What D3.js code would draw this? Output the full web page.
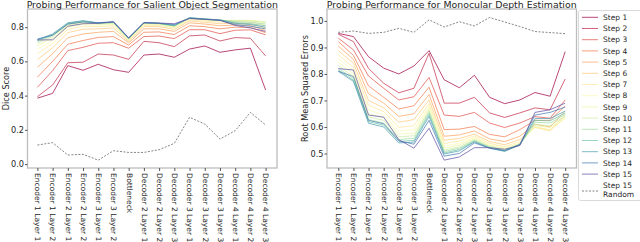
<!DOCTYPE html>
<html>
<head>
<meta charset="utf-8">
<script src="https://cdn.jsdelivr.net/npm/d3@7"></script>
<style>
  body { margin: 0; background: #fff; }
  text { font-family: "DejaVu Sans", sans-serif; fill: #262626; }
</style>
</head>
<body>
<div id="chart"></div>
<script>
var layers = ["Encoder 1 Layer 1", "Encoder 1 Layer 2", "Encoder 2 Layer 1", "Encoder 2 Layer 2",
  "Encoder 3 Layer 1", "Encoder 3 Layer 2", "Bottleneck", "Decoder 2 Layer 1", "Decoder 2 Layer 2",
  "Decoder 2 Layer 3", "Decoder 3 Layer 1", "Decoder 3 Layer 2", "Decoder 3 Layer 3",
  "Decoder 4 Layer 1", "Decoder 4 Layer 2", "Decoder 4 Layer 3"];

var stepNames = ["Step 1", "Step 2", "Step 3", "Step 4", "Step 5", "Step 6", "Step 7", "Step 8",
  "Step 9", "Step 10", "Step 11", "Step 12", "Step 13", "Step 14", "Step 15"];

// dice score per step (salient object segmentation)
var segSteps = [
  [0.385, 0.413, 0.575, 0.548, 0.583, 0.551, 0.536, 0.637, 0.643, 0.624, 0.672, 0.690, 0.653, 0.667, 0.677, 0.433],
  [0.394, 0.462, 0.592, 0.595, 0.643, 0.637, 0.612, 0.717, 0.709, 0.686, 0.749, 0.754, 0.719, 0.739, 0.735, 0.632],
  [0.448, 0.546, 0.663, 0.682, 0.706, 0.709, 0.677, 0.745, 0.748, 0.733, 0.785, 0.785, 0.762, 0.782, 0.784, 0.755],
  [0.508, 0.600, 0.700, 0.722, 0.740, 0.745, 0.695, 0.770, 0.772, 0.757, 0.808, 0.803, 0.790, 0.800, 0.798, 0.768],
  [0.565, 0.645, 0.738, 0.760, 0.770, 0.775, 0.708, 0.790, 0.790, 0.775, 0.825, 0.818, 0.808, 0.812, 0.810, 0.780],
  [0.610, 0.680, 0.768, 0.788, 0.790, 0.795, 0.716, 0.803, 0.803, 0.787, 0.836, 0.828, 0.820, 0.822, 0.820, 0.795],
  [0.645, 0.705, 0.787, 0.805, 0.803, 0.808, 0.722, 0.811, 0.810, 0.795, 0.843, 0.835, 0.830, 0.832, 0.830, 0.810],
  [0.672, 0.722, 0.800, 0.815, 0.812, 0.815, 0.726, 0.816, 0.815, 0.800, 0.848, 0.840, 0.836, 0.838, 0.838, 0.825],
  [0.692, 0.735, 0.808, 0.823, 0.817, 0.820, 0.729, 0.819, 0.818, 0.803, 0.851, 0.843, 0.838, 0.840, 0.840, 0.832],
  [0.705, 0.745, 0.814, 0.829, 0.820, 0.824, 0.731, 0.822, 0.820, 0.805, 0.853, 0.845, 0.840, 0.838, 0.836, 0.828],
  [0.715, 0.752, 0.818, 0.833, 0.822, 0.827, 0.733, 0.824, 0.821, 0.807, 0.854, 0.847, 0.841, 0.832, 0.828, 0.818],
  [0.722, 0.757, 0.822, 0.836, 0.824, 0.828, 0.734, 0.825, 0.822, 0.808, 0.855, 0.848, 0.842, 0.826, 0.820, 0.808],
  [0.727, 0.760, 0.825, 0.838, 0.825, 0.829, 0.735, 0.826, 0.822, 0.810, 0.855, 0.848, 0.842, 0.822, 0.815, 0.800],
  [0.730, 0.752, 0.818, 0.830, 0.826, 0.831, 0.737, 0.826, 0.823, 0.815, 0.852, 0.846, 0.840, 0.815, 0.805, 0.790],
  [0.725, 0.726, 0.805, 0.820, 0.822, 0.832, 0.738, 0.826, 0.824, 0.820, 0.850, 0.845, 0.840, 0.810, 0.795, 0.775]
];
var segRandom = [0.111, 0.125, 0.053, 0.057, 0.023, 0.078, 0.068, 0.068, 0.084, 0.121, 0.273, 0.234, 0.146, 0.195, 0.302, 0.228];

// rmse per step (monocular depth estimation)
var depthSteps = [
  [0.953, 0.941, 0.865, 0.822, 0.800, 0.830, 0.888, 0.778, 0.748, 0.795, 0.712, 0.688, 0.702, 0.730, 0.716, 0.884],
  [0.950, 0.922, 0.821, 0.765, 0.729, 0.746, 0.878, 0.690, 0.690, 0.712, 0.653, 0.636, 0.653, 0.672, 0.665, 0.781],
  [0.935, 0.891, 0.792, 0.746, 0.702, 0.714, 0.787, 0.645, 0.640, 0.655, 0.615, 0.598, 0.615, 0.639, 0.633, 0.702],
  [0.922, 0.870, 0.755, 0.712, 0.668, 0.680, 0.750, 0.590, 0.592, 0.602, 0.572, 0.563, 0.590, 0.625, 0.625, 0.680],
  [0.905, 0.855, 0.725, 0.690, 0.640, 0.650, 0.722, 0.565, 0.570, 0.585, 0.555, 0.545, 0.565, 0.610, 0.600, 0.660],
  [0.888, 0.840, 0.700, 0.672, 0.618, 0.628, 0.702, 0.550, 0.557, 0.573, 0.545, 0.533, 0.553, 0.600, 0.588, 0.645],
  [0.872, 0.825, 0.682, 0.658, 0.598, 0.605, 0.688, 0.538, 0.547, 0.566, 0.538, 0.526, 0.545, 0.598, 0.585, 0.635],
  [0.858, 0.812, 0.665, 0.645, 0.585, 0.590, 0.678, 0.528, 0.538, 0.560, 0.533, 0.521, 0.540, 0.600, 0.590, 0.632],
  [0.845, 0.800, 0.650, 0.635, 0.573, 0.577, 0.670, 0.520, 0.532, 0.556, 0.530, 0.518, 0.537, 0.605, 0.598, 0.637],
  [0.832, 0.790, 0.638, 0.625, 0.563, 0.567, 0.662, 0.513, 0.525, 0.552, 0.527, 0.515, 0.535, 0.610, 0.605, 0.642],
  [0.822, 0.782, 0.628, 0.615, 0.553, 0.557, 0.655, 0.507, 0.520, 0.549, 0.524, 0.512, 0.533, 0.618, 0.615, 0.648],
  [0.815, 0.776, 0.620, 0.607, 0.546, 0.549, 0.648, 0.502, 0.515, 0.546, 0.522, 0.510, 0.532, 0.625, 0.623, 0.653],
  [0.810, 0.772, 0.614, 0.600, 0.540, 0.543, 0.640, 0.498, 0.510, 0.544, 0.520, 0.508, 0.532, 0.632, 0.632, 0.660],
  [0.810, 0.790, 0.625, 0.612, 0.548, 0.535, 0.625, 0.490, 0.500, 0.540, 0.520, 0.510, 0.535, 0.645, 0.655, 0.675],
  [0.820, 0.815, 0.645, 0.637, 0.552, 0.520, 0.595, 0.475, 0.487, 0.522, 0.522, 0.516, 0.530, 0.655, 0.665, 0.690]
];
var depthRandom = [0.957, 0.962, 0.953, 0.957, 0.972, 0.957, 1.004, 0.977, 0.997, 0.981, 1.013, 0.996, 0.979, 0.960, 0.956, 0.952];

var segTicks = [0.0, 0.2, 0.4, 0.6, 0.8];
var depthTicks = [0.5, 0.6, 0.7, 0.8, 0.9, 1.0];

var width = 640, height = 242;
var svg = d3.select("#chart").append("svg")
  .attr("width", width)
  .attr("height", height);

var color = function(i) { return d3.interpolateSpectral(i / 14); };

function drawPanel(opts) {
  var x = d3.scalePoint()
    .domain(layers)
    .range([opts.first, opts.last]);

  var y = d3.scaleLinear()
    .domain(opts.yDomain)
    .range([168, 9]);

  var g = svg.append("g");

  var line = d3.line()
    .x(function(d, i) { return x(layers[i]); })
    .y(function(d) { return y(d); });

  opts.steps.forEach(function(s, i) {
    g.append("path")
      .attr("d", line(s))
      .attr("fill", "none")
      .attr("stroke", color(i))
      .attr("stroke-opacity", 0.72)
      .attr("stroke-width", 1);
  });

  g.append("path")
    .attr("d", line(opts.random))
    .attr("fill", "none")
    .attr("stroke", "#555")
    .attr("stroke-opacity", 0.8)
    .attr("stroke-width", 0.9)
    .attr("stroke-dasharray", "2,1.5");

  // frame
  g.append("rect")
    .attr("x", opts.left)
    .attr("y", 9)
    .attr("width", opts.right - opts.left)
    .attr("height", 159)
    .attr("fill", "none")
    .attr("stroke", "#bdbdbd")
    .attr("stroke-width", 1.3);

  var yAxis = g.append("g")
    .attr("transform", "translate(" + opts.left + ",0)")
    .call(d3.axisLeft(y).tickValues(opts.ticks).tickFormat(d3.format(".1f")).tickSize(2.5));
  yAxis.select(".domain").remove();
  yAxis.selectAll("line").attr("stroke", "#555");
  yAxis.selectAll("text")
    .style("font-size", "8.2px")
    .attr("fill", "#262626")
    .attr("x", -3.5);

  var xAxis = g.append("g")
    .attr("transform", "translate(0,168)")
    .call(d3.axisBottom(x).tickSize(3));
  xAxis.select(".domain").remove();
  xAxis.selectAll("line").attr("stroke", "#555");
  xAxis.selectAll("text")
    .style("font-size", "7.5px")
    .attr("fill", "#262626")
    .attr("text-anchor", "start")
    .attr("x", 0)
    .attr("y", 0)
    .attr("dy", "0.35em")
    .attr("transform", "translate(0,5) rotate(90)");

  svg.append("text")
    .attr("x", (opts.left + opts.right) / 2)
    .attr("y", 7.5)
    .attr("text-anchor", "middle")
    .style("font-size", "9.4px")
    .text(opts.title);

  svg.append("text")
    .attr("transform", "translate(" + opts.labelX + ",88.5) rotate(-90)")
    .attr("text-anchor", "middle")
    .attr("dy", "0.35em")
    .style("font-size", "8.2px")
    .text(opts.yLabel);
}

drawPanel({
  left: 27.5, right: 277,
  first: 37.4, last: 265.6,
  yDomain: [-0.023, 0.906],
  ticks: segTicks,
  steps: segSteps,
  random: segRandom,
  title: "Probing Performance for Salient Object Segmentation",
  yLabel: "Dice Score",
  labelX: 6
});

drawPanel({
  left: 327, right: 576.5,
  first: 338.3, last: 565.2,
  yDomain: [0.4453, 1.045],
  ticks: depthTicks,
  steps: depthSteps,
  random: depthRandom,
  title: "Probing Performance for Monocular Depth Estimation",
  yLabel: "Root Mean Squared Errors",
  labelX: 305
});

// legend
var legend = svg.append("g");
legend.append("rect")
  .attr("x", 578.5)
  .attr("y", 10.5)
  .attr("width", 70)
  .attr("height", 190)
  .attr("rx", 2)
  .attr("fill", "#fff")
  .attr("stroke", "#d0d0d0")
  .attr("stroke-width", 0.8);

stepNames.forEach(function(name, i) {
  var yy = 17.3 + i * 11.2;
  legend.append("line")
    .attr("x1", 582).attr("x2", 598)
    .attr("y1", yy).attr("y2", yy)
    .attr("stroke", color(i))
    .attr("stroke-opacity", 0.72)
    .attr("stroke-width", 1);
  legend.append("text")
    .attr("x", 603)
    .attr("y", yy)
    .attr("dy", "0.35em")
    .style("font-size", "7.5px")
    .text(name);
});

legend.append("line")
  .attr("x1", 582).attr("x2", 598)
  .attr("y1", 191).attr("y2", 191)
  .attr("stroke", "#555")
  .attr("stroke-opacity", 0.8)
  .attr("stroke-width", 0.9)
  .attr("stroke-dasharray", "2,1.5");
legend.append("text")
  .attr("x", 603).attr("y", 185.6).attr("dy", "0.35em")
  .style("font-size", "7.5px")
  .text("Step 15");
legend.append("text")
  .attr("x", 603).attr("y", 194).attr("dy", "0.35em")
  .style("font-size", "7.5px")
  .text("Random");
</script>
</body>
</html>
